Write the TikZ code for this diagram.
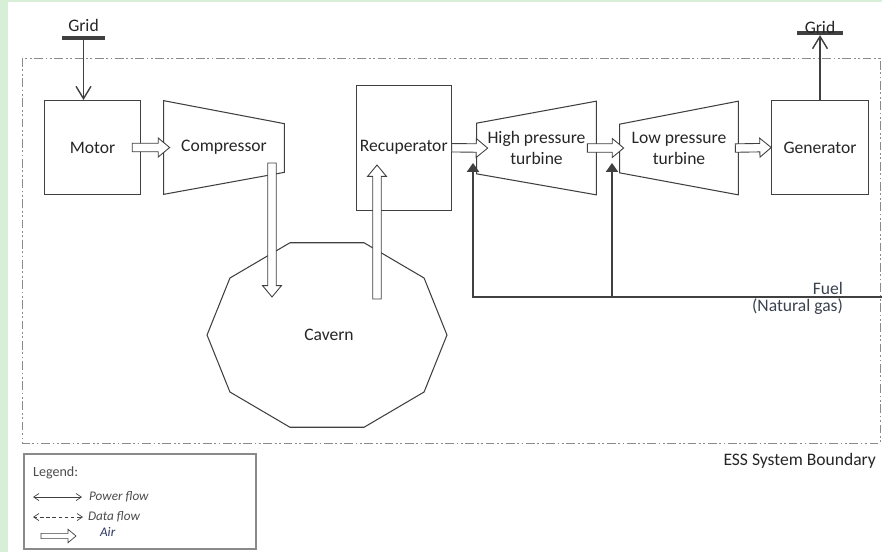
\documentclass[tikz,border=0pt]{standalone}
\usepackage{fontspec}
\setmainfont{Carlito}
\usepackage{xcolor}
\usepackage{tikz}
\usetikzlibrary{arrows.meta,calc,positioning}

\definecolor{linegray}{HTML}{404040}
\definecolor{framegray}{HTML}{8A8A8A}
\definecolor{sidegreen}{HTML}{D6EFD6}
\definecolor{fueltext}{HTML}{3A4250}
\definecolor{airblue}{HTML}{2A3560}

\begin{document}
\begin{tikzpicture}[x=0.02cm,y=-0.02cm,
  every node/.style={font=\fontsize{10}{12}\selectfont, text=black!85, inner sep=1pt},
  box/.style={draw=linegray, line width=0.6pt, minimum width=1.93cm, minimum height=1.88cm},
  machine/.style={minimum width=2.38cm, minimum height=1.86cm, align=center},
  shapeline/.style={draw=linegray, line width=0.6pt},
  gridbar/.style={fill=linegray, minimum width=0.88cm, minimum height=0.07cm, inner sep=0pt},
  power/.style={draw=linegray, line width=0.8pt, -{Straight Barb[length=7pt,width=8.5pt]}},
  % outlined block arrow: ext start, ext end, half shaft, half head, head length
  blockarrow/.style n args={5}{draw=linegray, line width=0.5pt, fill=white, to path={
    let \p1=($(\tikztostart)!-#1!(\tikztotarget)$), \p2=($(\tikztotarget)!-#2!(\tikztostart)$) in
    ($(\p1)!#3!90:(\p2)$) -- ($(\p2)!#5!(\p1)!#3!90:(\p2)$) -- ($(\p2)!#5!(\p1)!#4!90:(\p2)$)
    -- (\p2) -- ($(\p2)!#5!(\p1)!#4!-90:(\p2)$) -- ($(\p2)!#5!(\p1)!#3!-90:(\p2)$)
    -- ($(\p1)!#3!-90:(\p2)$) -- cycle}},
  airflow/.style 2 args={blockarrow={#1}{#2}{2.4pt}{5.4pt}{6.5pt}},
  airsmall/.style={blockarrow={0pt}{0pt}{1.5pt}{3.8pt}{4.5pt}, line width=0.4pt},
  fuelline/.style={draw=linegray, line width=0.9pt, -{Triangle[length=5pt,width=6.8pt]}},
  boundary/.style={draw=framegray, line width=0.5pt, dash pattern=on 5pt off 1.5pt on 1pt off 1.5pt on 1pt off 1.5pt},
  legendtxt/.style={anchor=west, font=\fontsize{7.5}{9}\selectfont\itshape, text=black!70},
  legendpower/.style={draw=linegray, line width=0.4pt, {Straight Barb[length=3pt,width=4pt]}-{Straight Barb[length=3pt,width=4pt]}}]
  \fill[sidegreen] (0,0) rectangle (8,552);
  \fill[sidegreen] (0,0) rectangle (882,2);
  \useasboundingbox (0,0) rectangle (882,552);

  % system boundary
  \draw[boundary] (22,58) rectangle (880,443);
  \node[anchor=east] (essb) at (878,461) {ESS System Boundary};

  % units
  \node[box] (motor) at (92.5,147.5) {Motor};
  \node[machine, minimum width=2.4cm] (comp) at (224,147.5) {Compressor};
  \draw[shapeline] (comp.north west) -- ([yshift=-0.46cm]comp.north east)
    -- ([yshift=0.44cm]comp.south east) -- (comp.south west) -- cycle;
  \node[box, minimum width=1.9cm, minimum height=2.5cm] (recup) at (403.75,147.75) {Recuperator};
  \node[machine] (hpt) at (536.5,148) {High pressure\\turbine};
  \draw[shapeline] ([yshift=-0.44cm]hpt.north west) -- (hpt.north east)
    -- (hpt.south east) -- ([yshift=0.42cm]hpt.south west) -- cycle;
  \node[machine, minimum width=2.36cm] (lpt) at (679,148) {Low pressure\\turbine};
  \draw[shapeline] ([yshift=-0.46cm]lpt.north west) -- (lpt.north east)
    -- (lpt.south east) -- ([yshift=0.44cm]lpt.south west) -- cycle;
  \node[box] (gen) at (820,147.5) {Generator};

  % cavern
  \coordinate (cavc) at (327,335);
  \node (cav) at (329,335) {Cavern};
  \draw[shapeline] ($(cavc)+(0:2.4cm and 1.94cm)$)
    \foreach \a in {36,72,...,324} { -- ($(cavc)+(\a:2.4cm and 1.94cm)$) } -- cycle;

  % grid connections
  \node[gridbar] (gridl) at (83.5,38) {};
  \node[above=1pt of gridl] (gridltxt) {Grid};
  \node[gridbar, minimum width=0.92cm] (gridr) at (820,33) {};
  \node[above=-3pt of gridr] (gridrtxt) {Grid};
  \draw[power] (gridl.south) -- (gridl.south |- motor.north);
  \draw[power] (gen.north) -- (gridr.south);

  % air path
  \coordinate (compout) at (272,163);
  \coordinate (cavin) at (272,297);
  \coordinate (cavout) at (377,299);
  \coordinate (recupin) at (377,165);
  \draw[airflow={0.18cm}{0.12cm}] (motor.east) to (comp.west);
  \draw[airflow={0pt}{0pt}] (compout) to (cavin);
  \draw[airflow={0pt}{0pt}] (cavout) to (recupin);
  \draw[airflow={0pt}{0.22cm}] (recup.east) to (hpt.west);
  \draw[airflow={0.18cm}{0.08cm}] (hpt.east) to (lpt.west);
  \draw[airflow={0.06cm}{0pt}] (lpt.east) to (gen.west);

  % fuel
  \coordinate (fuelin) at (882,297);
  \coordinate (hptfuel) at (473,163);
  \coordinate (lptfuel) at (612,163);
  \draw[fuelline] (fuelin) -| (hptfuel);
  \draw[fuelline] (lptfuel |- fuelin) -- (lptfuel);
  \node[anchor=east, align=right, font=\fontsize{10}{10}\selectfont, text=fueltext] (fuel) at (845,298.5) {Fuel\\(Natural gas)};

  % legend
  \node[draw=framegray, line width=0.6pt, minimum width=4.64cm, minimum height=1.9cm, inner sep=0pt] (legend) at (140,501.5) {};
  \node[anchor=west, font=\fontsize{8}{9.6}\selectfont, text=black!70] (legtitle) at (31,473) {Legend:};
  \node[legendtxt] (pwtxt) at (87,497) {Power flow};
  \coordinate (pwstart) at (33,497);
  \draw[legendpower, shorten >=0.1cm] (pwstart) -- (pwtxt.west);
  \node[legendtxt] (dftxt) at (86,517) {Data flow};
  \coordinate (dfstart) at (33,517);
  \draw[legendpower, dash pattern=on 2pt off 1.5pt, shorten >=0.06cm] (dfstart) -- (dftxt.west);
  \node[legendtxt, text=airblue] (airtxt) at (98,532) {Air};
  \coordinate (airstart) at (41,536);
  \coordinate (airend) at (76,536);
  \draw[airsmall] (airstart) to (airend);
\end{tikzpicture}
\end{document}
